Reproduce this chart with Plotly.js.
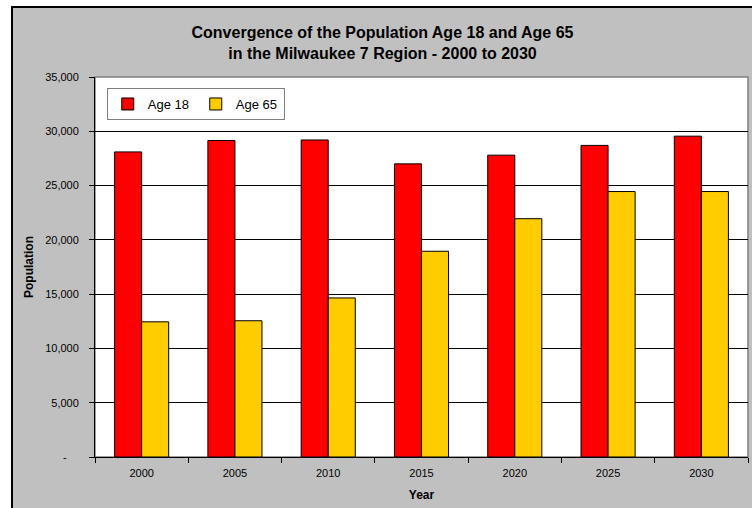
<!DOCTYPE html>
<html><head><meta charset="utf-8">
<script src="https://cdn.plot.ly/plotly-3.0.1.min.js"></script>
<style>
html,body{margin:0;padding:0;background:#fff;width:752px;height:508px;overflow:hidden;}
#frame{position:absolute;left:11px;top:6px;width:741px;height:502px;box-sizing:border-box;border-left:2px solid #000;border-top:2px solid #000;background:#C0C0C0;}
#chart{width:739px;height:500px;}
</style></head><body>
<div id="frame"><div id="chart"></div></div>
<script>
const years = ['2000', '2005', '2010', '2015', '2020', '2025', '2030'];
const age18 = [28100, 29150, 29200, 27000, 27800, 28700, 29550];
const age65 = [12450, 12550, 14650, 18950, 21950, 24450, 24450];
const yTickVals = [0, 5000, 10000, 15000, 20000, 25000, 30000, 35000];
const yTickText = ['-\u00a0\u00a0\u00a0\u00a0', '5,000', '10,000', '15,000', '20,000', '25,000', '30,000', '35,000'];
const seriesNames = ['Age 18', 'Age 65'];
const seriesColors = ['#FF0000', '#FFCC00'];
const chartTitle = 'Convergence of the Population Age 18 and Age 65<br>in the Milwaukee 7 Region - 2000 to 2030';

const FONT = 'Liberation Sans, Arial, Helvetica, sans-serif';

const traces = [age18, age65].map((vals, i) => ({
  type: 'bar',
  name: seriesNames[i],
  x: years,
  y: vals,
  marker: {color: seriesColors[i], line: {color: '#000', width: 1}},
  hoverinfo: 'skip'
}));

const layout = {
  width: 739, height: 500,
  margin: {l: 82, r: 4, t: 69, b: 51},
  paper_bgcolor: '#C0C0C0',
  plot_bgcolor: '#FFFFFF',
  font: {family: FONT, size: 11, color: '#000'},
  title: {
    text: chartTitle,
    font: {family: FONT, size: 16, color: '#000', weight: 'bold'},
    x: 0.5, xref: 'container', xanchor: 'center',
    y: 0.94, yref: 'container', yanchor: 'middle'
  },
  barmode: 'group',
  bargap: 0.42,
  bargroupgap: 0,
  showlegend: true,
  legend: {
    orientation: 'h', x: 0.018, y: 0.971, xanchor: 'left', yanchor: 'top',
    bgcolor: '#FFFFFF', bordercolor: '#808080', borderwidth: 1,
    font: {family: FONT, size: 13, color: '#000'},
    itemwidth: 30, entrywidth: 43, entrywidthmode: 'pixels',
    traceorder: 'normal'
  },
  xaxis: {
    type: 'category',
    showline: true, linecolor: '#000', linewidth: 1,
    ticks: 'outside', ticklen: 5, tickcolor: '#000', tickwidth: 1,
    tickson: 'boundaries', ticklabelstandoff: 6,
    showgrid: false, zeroline: false,
    tickfont: {family: FONT, size: 11, color: '#000'},
    title: {text: 'Year', font: {family: FONT, size: 12, color: '#000', weight: 'bold'}, standoff: 12}
  },
  yaxis: {
    range: [0, 35000],
    tickvals: yTickVals, ticktext: yTickText,
    showline: true, linecolor: '#000', linewidth: 1,
    ticks: 'outside', ticklen: 5, tickcolor: '#000', tickwidth: 1,
    ticklabelstandoff: 8,
    showgrid: true, gridcolor: '#000', gridwidth: 1,
    zeroline: false,
    tickfont: {family: FONT, size: 11, color: '#000'},
    title: {text: 'Population', font: {family: FONT, size: 12, color: '#000', weight: 'bold'}, standoff: 8}
  },
  shapes: [{
    type: 'rect', xref: 'paper', yref: 'paper', x0: 0, x1: 1, y0: 0, y1: 1,
    line: {color: '#808080', width: 1.5}, layer: 'below'
  }]
};

Plotly.newPlot('chart', traces, layout, {displayModeBar: false, staticPlot: true});
</script>
</body></html>
